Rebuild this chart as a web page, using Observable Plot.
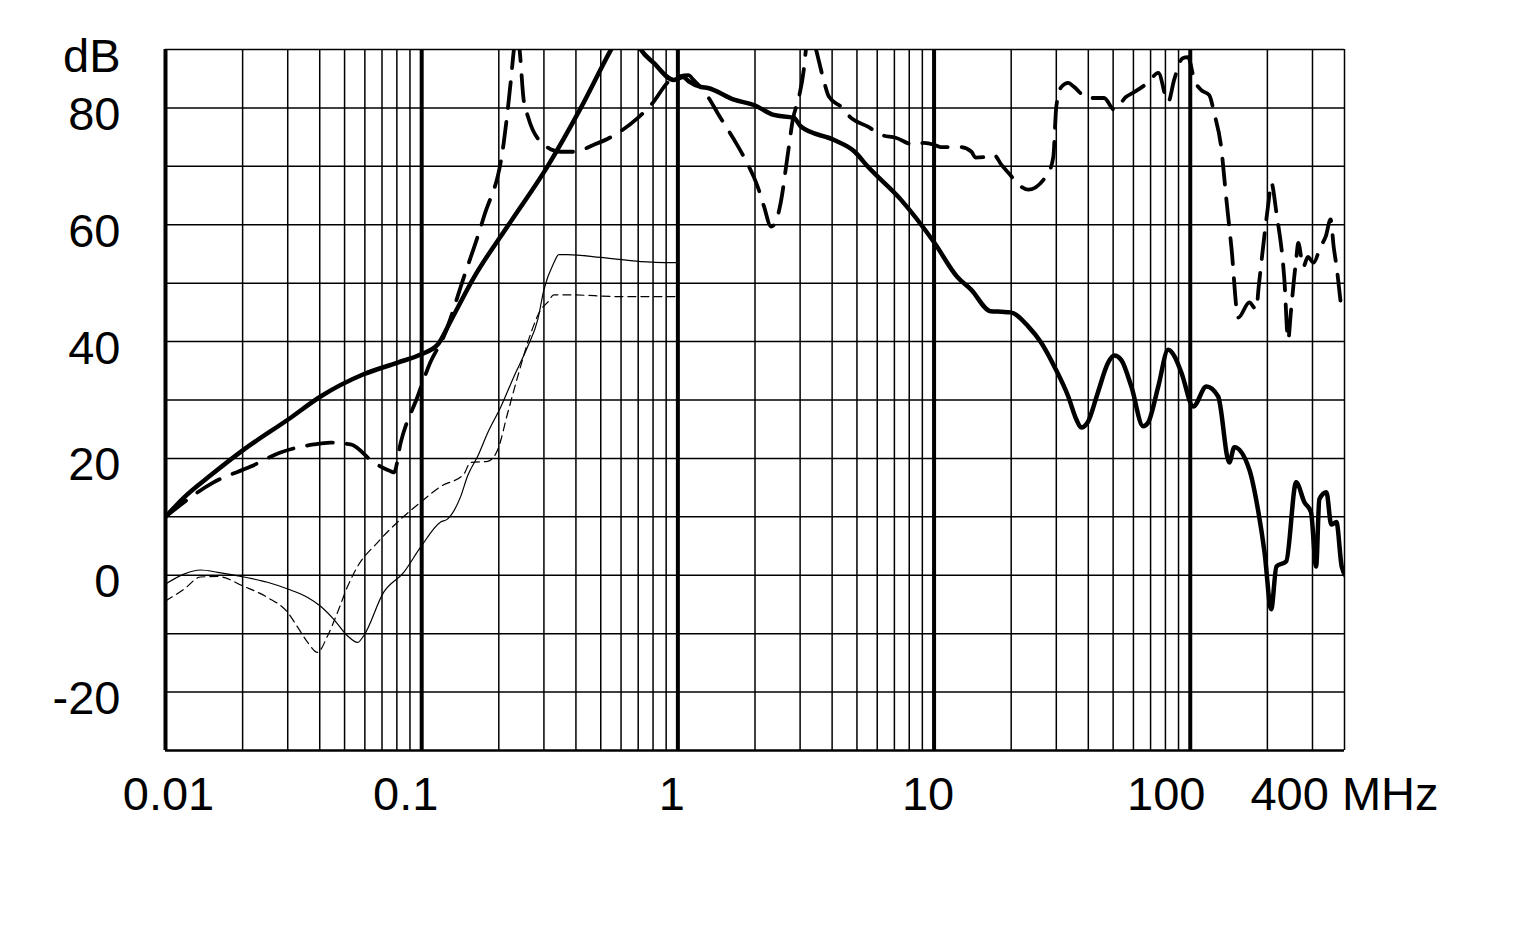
<!DOCTYPE html>
<html>
<head>
<meta charset="utf-8">
<script src="https://cdn.jsdelivr.net/npm/d3@7"></script>
<script src="https://cdn.jsdelivr.net/npm/@observablehq/plot@0.6"></script>
<style>
  html, body { margin: 0; padding: 0; background: #fff; }
  #chart svg { display: block; }
</style>
</head>
<body>
<div id="chart"></div>
<script>
// ---- axis ticks / grid ----
const xTickValues = [0.01, 0.1, 1, 10, 100, 400];
const xTickLabels = ["0.01", "0.1", "1", "10", "100", "400 MHz"];
const yTickValues = [90, 80, 60, 40, 20, 0, -20];
const yTickLabels = ["dB", "80", "60", "40", "20", "0", "-20"];
const decadeGrid = [0.01, 0.1, 1, 10, 100];
const minorGrid = [0.02, 0.03, 0.04, 0.05, 0.06, 0.07, 0.08, 0.09,
                   0.2, 0.3, 0.4, 0.5, 0.6, 0.7, 0.8, 0.9,
                   2, 3, 4, 5, 6, 7, 8, 9,
                   20, 30, 40, 50, 60, 70, 80, 90,
                   200, 300, 400];
const yGrid = [-20, -10, 0, 10, 20, 30, 40, 50, 60, 70, 80, 90];

// ---- series: thick solid ----
const freqA = [0.01, 0.0118, 0.015, 0.0202, 0.0302, 0.0403, 0.0593, 0.0806, 0.099, 0.1155, 0.13, 0.16, 0.22, 0.31, 0.418, 0.547, 0.6, 0.65, 0.717, 0.805, 0.964, 1.05, 1.1, 1.23, 1.31, 1.655, 1.98, 2.37, 2.84, 3.02, 4.07, 4.9, 5.5, 7.42, 10, 12.3, 13.95, 16.6, 18.3, 19.9, 23.3, 26.2, 29.5, 33.4, 35.9, 37.5, 39.8, 43.6, 47.8, 50.5, 53.7, 58.9, 65.5, 68.6, 75, 82, 87, 92.3, 102.8, 115.6, 128.5, 142, 148.6, 170, 184.5, 195, 207, 217, 237, 259, 279, 296, 310, 319, 340, 355, 372, 390, 407];
const dbA   = [10, 13.3, 17.1, 21.5, 26.7, 30.6, 34.4, 36.4, 37.8, 39.5, 43.6, 51, 60.2, 70, 80, 89.9, 93, 94, 90, 87.7, 84.8, 85.3, 84.6, 83.6, 83.4, 81.4, 80.5, 78.8, 78.3, 76.8, 74.5, 72.5, 70, 64.3, 57, 51.1, 48.9, 45.2, 45.1, 45, 42.6, 39.8, 35.7, 30.6, 26.7, 25.3, 26.2, 31.3, 36.4, 37.6, 36.9, 32.3, 25.5, 26.2, 32.3, 38.6, 37.4, 34.7, 28.9, 32.3, 30.6, 19.3, 21.9, 18.1, 10.8, 3.9, -5.8, 1.5, 2.4, 15.9, 12.5, 10.8, 1.5, 13, 14.2, 8.7, 9.1, 1.5, -0.3];

// ---- series: thick dashed ----
const freqB = [0.01, 0.0154, 0.0215, 0.0281, 0.0379, 0.0441, 0.0528, 0.065, 0.0757, 0.078, 0.0828, 0.0964, 0.108, 0.122, 0.146, 0.175, 0.209, 0.223, 0.229, 0.235, 0.241, 0.25, 0.26, 0.3, 0.349, 0.393, 0.47, 0.547, 0.698, 0.785, 0.94, 1.1, 1.15, 1.31, 1.43, 1.66, 1.81, 2.05, 2.17, 2.31, 2.4, 2.52, 2.69, 2.81, 2.97, 3.1, 3.16, 3.3, 3.46, 3.68, 3.89, 4.33, 4.74, 5.52, 6.2, 7.08, 8.35, 9.13, 10, 10.6, 12.7, 14, 14.5, 15.7, 17.1, 18.3, 19.5, 21.9, 23.3, 27.9, 29.2, 30, 31.4, 33.4, 35.2, 39.8, 46.1, 50.5, 56.2, 60.4, 68.6, 75, 82, 86.5, 93.4, 98, 103.7, 110, 118.6, 124, 132, 138, 144.7, 154, 170, 181, 185, 202, 207, 217, 233, 241, 247, 254, 259, 264, 276, 288, 303, 322, 338, 353, 363, 373, 390, 407];
const dbB   = [10, 15.9, 18.6, 21, 22.4, 22.7, 22.4, 19.3, 17.8, 17.6, 22.7, 30.6, 36.4, 40.9, 51, 61.4, 74, 84.8, 89.9, 93, 90, 81.4, 78.5, 73.7, 72.5, 72.5, 73.7, 75, 78.3, 80.5, 84.8, 85.6, 84.8, 81.9, 79.1, 74.5, 71.6, 66.5, 63.1, 59.7, 60.3, 63.8, 72.3, 78, 81.9, 86.5, 89.9, 93, 90, 85.3, 81.9, 80.2, 78.3, 76.8, 75.4, 74.9, 73.7, 74, 73.7, 73.3, 73.3, 72.5, 71.5, 71.6, 72, 70.3, 68.9, 66.5, 66, 68.9, 71.6, 80.2, 83.6, 84.3, 83.6, 81.7, 81.7, 79.7, 81.9, 82.7, 84.4, 86, 81, 84.8, 88.5, 88.7, 84.8, 83.1, 82.2, 79.1, 73.3, 64.8, 56.2, 44.1, 46.7, 45.5, 49.4, 63.8, 67.2, 62, 50.6, 40.3, 45, 50.6, 54, 56.9, 52.8, 54.5, 53.5, 56.2, 58, 60.9, 56.2, 52.6, 45];

// ---- series: thin solid ----
const freqC = [0.01, 0.0118, 0.0137, 0.016, 0.0202, 0.025, 0.0302, 0.0359, 0.0403, 0.0453, 0.0514, 0.0562, 0.0593, 0.0711, 0.0851, 0.099, 0.1186, 0.126, 0.142, 0.151, 0.166, 0.181, 0.204, 0.229, 0.259, 0.284, 0.3, 0.328, 0.343, 0.371, 0.5, 0.716, 0.98];
const dbC   = [-1.5, 0.2, 0.9, 0.5, -0.3, -1.2, -2.4, -3.8, -5.3, -7.5, -10.4, -11.5, -10.4, -2.9, 0.5, 4.8, 9.1, 9.6, 13.5, 17, 20.5, 24.4, 28.9, 34, 39.1, 43.8, 48.9, 53.5, 54.9, 54.9, 54.4, 53.7, 53.5];

// ---- series: thin dashed ----
const freqD = [0.01, 0.0118, 0.0137, 0.016, 0.0202, 0.025, 0.0299, 0.0326, 0.0359, 0.0392, 0.0429, 0.047, 0.0514, 0.0562, 0.0672, 0.0828, 0.099, 0.1186, 0.146, 0.155, 0.181, 0.198, 0.217, 0.237, 0.267, 0.292, 0.31, 0.328, 0.371, 0.6, 0.98];
const dbD   = [-4.4, -2.4, -0.3, -0.2, -1.9, -3.8, -6.3, -8.7, -11.5, -13.2, -10.4, -6.3, -1.9, 1.5, 5.6, 9.6, 12.5, 15.2, 17.3, 19.3, 19.5, 21.5, 27.9, 34, 41.5, 45.5, 46.7, 48, 48, 47.7, 47.7];

const toRows = (fs, vs) => fs.map((f, i) => ({f, v: vs[i]}));
const A = toRows(freqA, dbA), B = toRows(freqB, dbB), C = toRows(freqC, dbC), D = toRows(freqD, dbD);
const xTicks = xTickValues.map((v, i) => ({v, label: xTickLabels[i]}));
const yTicks = yTickValues.map((v, i) => ({v, label: yTickLabels[i]}));
const pick = (...labels) => xTicks.filter(t => labels.includes(t.label));

const xLabel = (data, dx) => Plot.text(data, {x: "v", text: "label", frameAnchor: "bottom", lineAnchor: "top", dy: 26, dx, fontSize: 47, fill: "#000"});

const chart = Plot.plot({
  width: 1522,
  height: 930,
  marginTop: 49,
  marginLeft: 165,
  marginRight: 178,
  marginBottom: 180,
  style: {fontFamily: "'Liberation Sans', Arial, sans-serif", background: "#fff", color: "#000"},
  x: {type: "log", domain: [0.01, 400], axis: null},
  y: {domain: [-30, 90], axis: null},
  marks: [
    Plot.ruleX(minorGrid, {x: d => d, stroke: "#000", strokeWidth: 1.5}),
    Plot.ruleY(yGrid, {y: d => d, stroke: "#000", strokeWidth: 1.5}),
    Plot.ruleY([-30], {y: d => d, stroke: "#000", strokeWidth: 2.5}),
    Plot.ruleX(decadeGrid, {x: d => d, stroke: "#000", strokeWidth: 4}),
    Plot.line(C, {x: "f", y: "v", stroke: "#000", strokeWidth: 1.2, curve: "monotone-x", clip: true}),
    Plot.line(D, {x: "f", y: "v", stroke: "#000", strokeWidth: 1.2, strokeDasharray: "8,5", curve: "monotone-x", clip: true}),
    Plot.line(B, {x: "f", y: "v", stroke: "#000", strokeWidth: 3.8, strokeDasharray: "26,14", strokeLinecap: "round", curve: "monotone-x", clip: true}),
    Plot.line(A, {x: "f", y: "v", stroke: "#000", strokeWidth: 4.5, strokeLinejoin: "round", curve: "monotone-x", clip: true}),
    xLabel(pick("0.01"), 3),
    xLabel(pick("0.1"), -16),
    xLabel(pick("1", "10"), -6),
    xLabel(pick("100"), -24),
    xLabel(pick("400 MHz"), 0),
    Plot.text(yTicks, {y: "v", text: "label", frameAnchor: "left", textAnchor: "end", dx: -45, dy: 7, fontSize: 47, fill: "#000"})
  ]
});
document.getElementById("chart").appendChild(chart);
</script>
</body>
</html>
